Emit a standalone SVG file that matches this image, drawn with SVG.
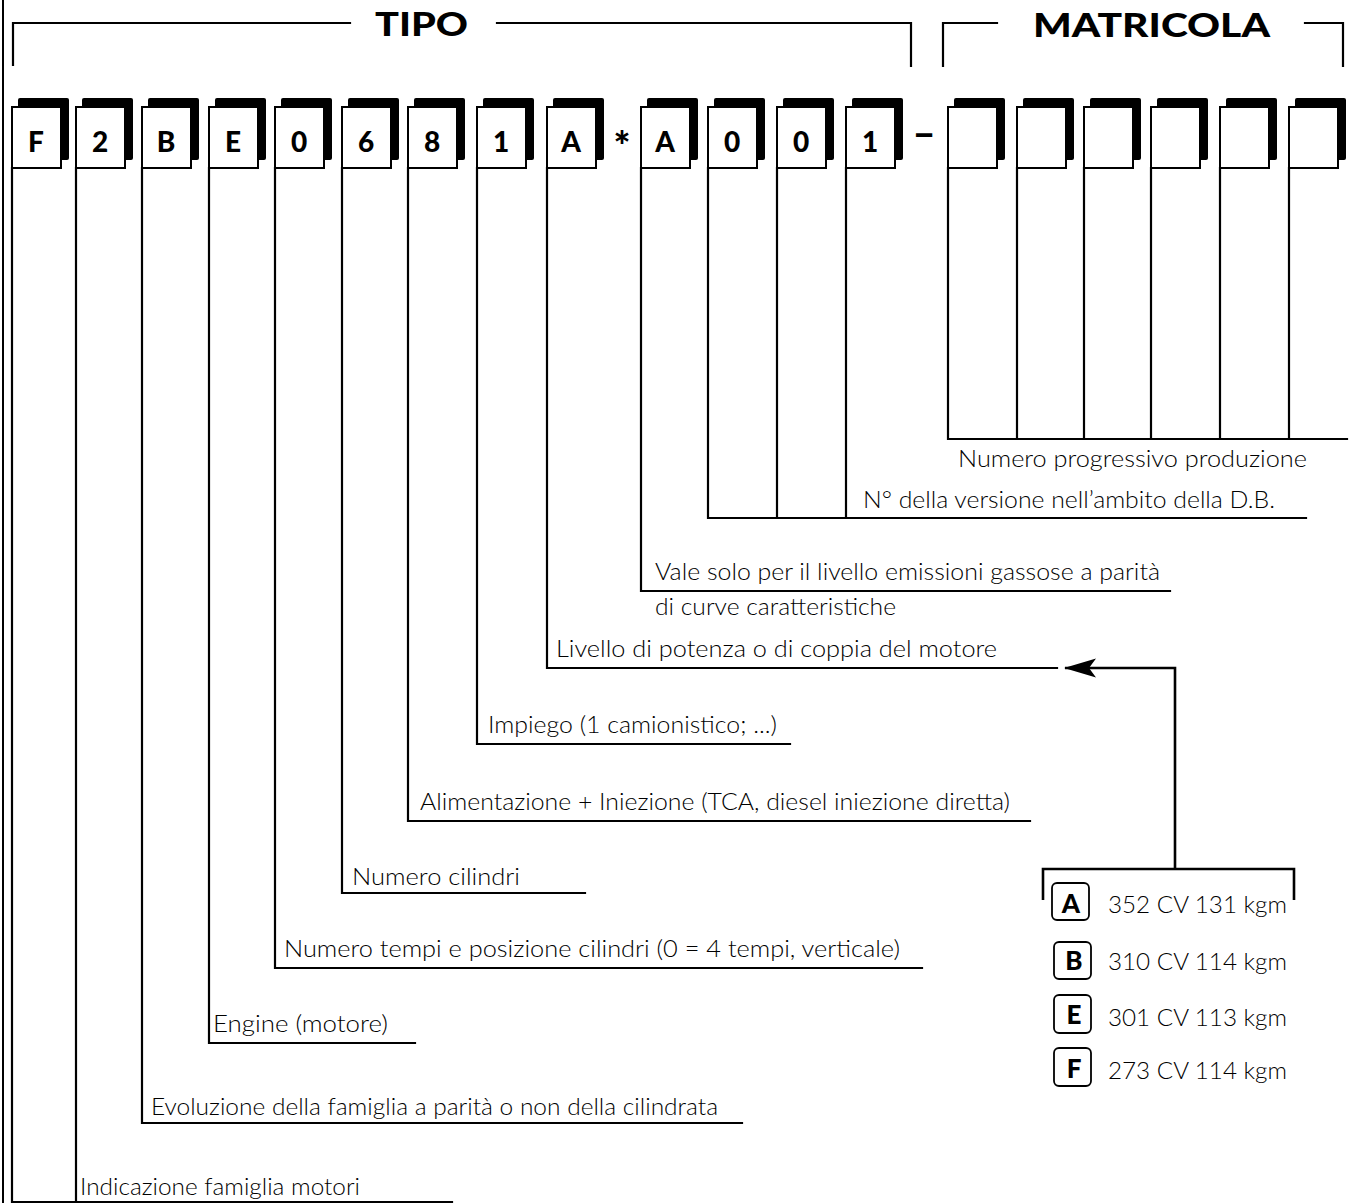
<svg xmlns="http://www.w3.org/2000/svg" width="1351" height="1203" viewBox="0 0 1351 1203">
<style>
.sh{fill:#000}
.bx{fill:#fff;stroke:#000;stroke-width:2}
.ch{font-family:Lato,"Liberation Sans",sans-serif;font-weight:900;font-size:28px;text-anchor:middle;fill:#000}
.ttl{font-family:Lato,"Liberation Sans",sans-serif;font-weight:900;font-size:33px;fill:#000}
.lbl{font-family:Lato,"Liberation Sans",sans-serif;font-weight:300;font-size:24px;fill:#000}
.ln{fill:none;stroke:#000;stroke-width:2.2;stroke-linecap:square}
.lg{fill:none;stroke:#000;stroke-width:2.6}
.lbox{fill:#fff;stroke:#000;stroke-width:1.8}
</style>
<defs>
<marker id="arr" viewBox="0 0 34 20" refX="33" refY="10" markerWidth="34" markerHeight="20" markerUnits="userSpaceOnUse" orient="auto">
<path d="M34,10 L2,0.5 L9,10 L2,19.5 Z" fill="#000"/>
</marker>
</defs>

<line x1="3" y1="0" x2="3" y2="1203" stroke="#000" stroke-width="2"/>

<g id="brackets" class="ln">
<path d="M13,65 V23 H350"/>
<path d="M497,23 H911 V66"/>
<path d="M943,66 V23 H997"/>
<path d="M1305,23 H1343 V66"/>
</g>
<text class="ttl" x="375" y="36" textLength="93" lengthAdjust="spacingAndGlyphs">TIPO</text>
<text class="ttl" x="1033" y="37" textLength="237" lengthAdjust="spacingAndGlyphs">MATRICOLA</text>

<g id="connectors" class="ln">
<path d="M12,168 V1202 H452"/>
<path d="M76,168 V1202"/>
<path d="M142,168 V1123 H742"/>
<path d="M209,168 V1043 H415"/>
<path d="M275,168 V968 H922"/>
<path d="M342,168 V893 H585"/>
<path d="M408,168 V821 H1030"/>
<path d="M477,168 V744 H790"/>
<path d="M547,168 V668 H1057"/>
<path d="M641,168 V591 H1170"/>
<path d="M708,168 V518 H1306"/>
<path d="M777,168 V518"/>
<path d="M846,168 V518"/>
<path d="M948,168 V439 H1347"/>
<path d="M1017,168 V439"/>
<path d="M1084,168 V439"/>
<path d="M1151,168 V439"/>
<path d="M1220,168 V439"/>
<path d="M1289,168 V439"/>
</g>

<g id="box-F"><rect class="sh" x="18" y="98" width="51" height="62" rx="2"/><rect class="bx" x="12" y="107" width="49" height="61"/><text class="ch" x="36" y="152">F</text></g>
<g id="box-2"><rect class="sh" x="82" y="98" width="51" height="62" rx="2"/><rect class="bx" x="76" y="107" width="49" height="61"/><text class="ch" x="100" y="152">2</text></g>
<g id="box-B"><rect class="sh" x="148" y="98" width="51" height="62" rx="2"/><rect class="bx" x="142" y="107" width="49" height="61"/><text class="ch" x="166" y="152">B</text></g>
<g id="box-E"><rect class="sh" x="215" y="98" width="51" height="62" rx="2"/><rect class="bx" x="209" y="107" width="49" height="61"/><text class="ch" x="233" y="152">E</text></g>
<g id="box-0a"><rect class="sh" x="281" y="98" width="51" height="62" rx="2"/><rect class="bx" x="275" y="107" width="49" height="61"/><text class="ch" x="299" y="152">0</text></g>
<g id="box-6"><rect class="sh" x="348" y="98" width="51" height="62" rx="2"/><rect class="bx" x="342" y="107" width="49" height="61"/><text class="ch" x="366" y="152">6</text></g>
<g id="box-8"><rect class="sh" x="414" y="98" width="51" height="62" rx="2"/><rect class="bx" x="408" y="107" width="49" height="61"/><text class="ch" x="432" y="152">8</text></g>
<g id="box-1a"><rect class="sh" x="483" y="98" width="51" height="62" rx="2"/><rect class="bx" x="477" y="107" width="49" height="61"/><text class="ch" x="501" y="152">1</text></g>
<g id="box-A"><rect class="sh" x="553" y="98" width="51" height="62" rx="2"/><rect class="bx" x="547" y="107" width="49" height="61"/><text class="ch" x="571" y="152">A</text></g>
<text class="ch" id="star" x="622" y="161" style="font-size:40px">*</text>
<g id="box-A2"><rect class="sh" x="647" y="98" width="51" height="62" rx="2"/><rect class="bx" x="641" y="107" width="49" height="61"/><text class="ch" x="665" y="152">A</text></g>
<g id="box-0b"><rect class="sh" x="714" y="98" width="51" height="62" rx="2"/><rect class="bx" x="708" y="107" width="49" height="61"/><text class="ch" x="732" y="152">0</text></g>
<g id="box-0c"><rect class="sh" x="783" y="98" width="51" height="62" rx="2"/><rect class="bx" x="777" y="107" width="49" height="61"/><text class="ch" x="801" y="152">0</text></g>
<g id="box-1b"><rect class="sh" x="852" y="98" width="51" height="62" rx="2"/><rect class="bx" x="846" y="107" width="49" height="61"/><text class="ch" x="870" y="152">1</text></g>
<text class="ch" id="dash" x="924" y="147" style="font-size:40px">–</text>
<g id="m1"><rect class="sh" x="954" y="98" width="51" height="62" rx="2"/><rect class="bx" x="948" y="107" width="49" height="61"/></g>
<g id="m2"><rect class="sh" x="1023" y="98" width="51" height="62" rx="2"/><rect class="bx" x="1017" y="107" width="49" height="61"/></g>
<g id="m3"><rect class="sh" x="1090" y="98" width="51" height="62" rx="2"/><rect class="bx" x="1084" y="107" width="49" height="61"/></g>
<g id="m4"><rect class="sh" x="1157" y="98" width="51" height="62" rx="2"/><rect class="bx" x="1151" y="107" width="49" height="61"/></g>
<g id="m5"><rect class="sh" x="1226" y="98" width="51" height="62" rx="2"/><rect class="bx" x="1220" y="107" width="49" height="61"/></g>
<g id="m6"><rect class="sh" x="1295" y="98" width="51" height="62" rx="2"/><rect class="bx" x="1289" y="107" width="49" height="61"/></g>

<g id="labels" class="lbl">
<text x="958" y="467" textLength="349" lengthAdjust="spacingAndGlyphs">Numero progressivo produzione</text>
<text x="863" y="508" textLength="412" lengthAdjust="spacingAndGlyphs">N° della versione nell’ambito della D.B.</text>
<text x="655" y="580" textLength="505" lengthAdjust="spacingAndGlyphs">Vale solo per il livello emissioni gassose a parità</text>
<text x="655" y="615" textLength="241" lengthAdjust="spacingAndGlyphs">di curve caratteristiche</text>
<text x="556" y="657" textLength="441" lengthAdjust="spacingAndGlyphs">Livello di potenza o di coppia del motore</text>
<text x="488" y="733" textLength="289" lengthAdjust="spacingAndGlyphs">Impiego (1 camionistico; ...)</text>
<text x="420" y="810" textLength="590" lengthAdjust="spacingAndGlyphs">Alimentazione + Iniezione (TCA, diesel iniezione diretta)</text>
<text x="352" y="885" textLength="168" lengthAdjust="spacingAndGlyphs">Numero cilindri</text>
<text x="284" y="957" textLength="616" lengthAdjust="spacingAndGlyphs">Numero tempi e posizione cilindri (0 = 4 tempi, verticale)</text>
<text x="213" y="1032" textLength="175" lengthAdjust="spacingAndGlyphs">Engine (motore)</text>
<text x="151" y="1115" textLength="567" lengthAdjust="spacingAndGlyphs">Evoluzione della famiglia a parità o non della cilindrata</text>
<text x="80" y="1195" textLength="280" lengthAdjust="spacingAndGlyphs">Indicazione famiglia motori</text>
</g>

<g id="legend">
<path class="lg" d="M1175,869 V668 H1065" marker-end="url(#arr)"/>
<path class="lg" d="M1043,900 V869 H1294 V900"/>
<g id="leg-A"><rect class="lbox" x="1052" y="883" width="37" height="37" rx="5"/><text class="ch" x="1071" y="913" style="font-size:26px">A</text><text class="lbl" x="1108" y="913" textLength="179" lengthAdjust="spacingAndGlyphs">352 CV 131 kgm</text></g>
<g id="leg-B"><rect class="lbox" x="1054" y="942" width="37" height="37" rx="5"/><text class="ch" x="1074" y="970" style="font-size:26px">B</text><text class="lbl" x="1108" y="970" textLength="179" lengthAdjust="spacingAndGlyphs">310 CV 114 kgm</text></g>
<g id="leg-E"><rect class="lbox" x="1054" y="995" width="37" height="38" rx="5"/><text class="ch" x="1074" y="1024" style="font-size:26px">E</text><text class="lbl" x="1108" y="1026" textLength="179" lengthAdjust="spacingAndGlyphs">301 CV 113 kgm</text></g>
<g id="leg-F"><rect class="lbox" x="1054" y="1048" width="37" height="38" rx="5"/><text class="ch" x="1074" y="1078" style="font-size:26px">F</text><text class="lbl" x="1108" y="1079" textLength="179" lengthAdjust="spacingAndGlyphs">273 CV 114 kgm</text></g>
</g>
</svg>
